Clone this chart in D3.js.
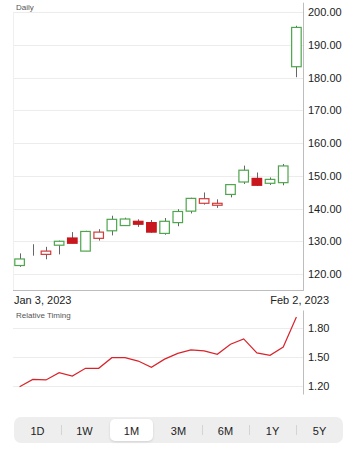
<!DOCTYPE html>
<html>
<head>
<meta charset="utf-8">
<script src="https://cdn.jsdelivr.net/npm/d3@7"></script>
<style>
  body { margin: 0; background: #fff; }
  text { font-family: "Liberation Sans", Arial, sans-serif; }
</style>
</head>
<body>
<script>
// daily prices, Jan 3 - Feb 2 2023
var dates = ["Jan 3, 2023", "Jan 4", "Jan 5", "Jan 6", "Jan 9", "Jan 10", "Jan 11", "Jan 12", "Jan 13",
  "Jan 17", "Jan 18", "Jan 19", "Jan 20", "Jan 23", "Jan 24", "Jan 25", "Jan 26", "Jan 27",
  "Jan 30", "Jan 31", "Feb 1", "Feb 2, 2023"];
var open  = [122.6, 127.3, 126.0, 128.8, 131.0, 127.0, 130.9, 133.2, 134.8, 136.1, 135.7, 132.4, 135.7, 139.2, 141.6, 141.0, 144.3, 148.1, 149.2, 147.7, 147.9, 183.3];
var high  = [126.3, 129.1, 128.3, 130.2, 132.8, 133.2, 133.7, 137.8, 137.2, 136.7, 136.5, 137.1, 139.8, 143.3, 144.9, 142.8, 147.5, 153.1, 151.0, 149.5, 153.6, 195.8];
var low   = [122.2, 125.6, 124.5, 126.0, 129.4, 127.0, 130.2, 131.8, 134.7, 134.4, 132.6, 132.0, 134.6, 138.5, 141.2, 140.2, 143.4, 147.5, 146.9, 147.2, 147.1, 180.1];
var close = [124.6, 127.3, 127.0, 130.0, 129.4, 133.0, 132.8, 136.7, 136.8, 135.2, 132.8, 136.1, 139.1, 143.1, 143.0, 141.6, 147.3, 151.7, 147.1, 148.9, 153.0, 195.3];
var timing = [1.19, 1.265, 1.26, 1.335, 1.30, 1.38, 1.38, 1.49, 1.49, 1.455, 1.39, 1.475, 1.535, 1.57, 1.56, 1.525, 1.63, 1.685, 1.54, 1.515, 1.60, 1.91];
var priceTicks = [120, 130, 140, 150, 160, 170, 180, 190, 200];
var timingTicks = [1.2, 1.5, 1.8];
var ranges = ["1D", "1W", "1M", "3M", "6M", "1Y", "5Y"];
var selectedRange = "1M";

var width = 358, height = 450;
var left = 13, right = 303;

var svg = d3.select("body").append("svg")
  .attr("width", width)
  .attr("height", height);

var x = d3.scaleBand()
  .domain(d3.range(dates.length))
  .range([left, right])
  .paddingInner(0.2)
  .paddingOuter(0.1);

var y = d3.scaleLinear().domain([115, 203]).range([290.4, 2.2]);
var y2 = d3.scaleLinear().domain([1.1, 2.0]).range([395.4, 308.4]);

// ---- price panel ----
svg.append("g")
  .selectAll("line")
  .data(priceTicks)
  .enter().append("line")
  .attr("x1", left).attr("x2", right)
  .attr("y1", d => Math.round(y(d)) + 0.5)
  .attr("y2", d => Math.round(y(d)) + 0.5)
  .attr("stroke", "#ececec");

svg.append("line")
  .attr("x1", left + 0.5).attr("x2", left + 0.5)
  .attr("y1", y(200)).attr("y2", y(115))
  .attr("stroke", "#f0f0f0");

var yAxis = svg.append("g")
  .attr("transform", "translate(" + right + ",0)")
  .call(d3.axisRight(y).tickValues(priceTicks).tickFormat(d3.format(".2f")).tickSize(0).tickPadding(5));
yAxis.select(".domain").attr("stroke", "#bdbdbd");
yAxis.selectAll("text").attr("font-size", 11).attr("fill", "#222");

svg.append("line")
  .attr("x1", left).attr("x2", right + 0.5)
  .attr("y1", 290.5).attr("y2", 290.5)
  .attr("stroke", "#bdbdbd");

svg.append("text")
  .attr("x", 16).attr("y", 10)
  .attr("font-size", 8)
  .attr("fill", "#555")
  .text("Daily");

var candles = svg.append("g")
  .selectAll("g")
  .data(dates.map((d, i) => i))
  .enter().append("g");

function candleColor(i) {
  if (open[i] === close[i]) return "#666";
  var up = i === 0 ? close[i] >= open[i] : close[i] >= close[i - 1];
  return up ? "#4da64d" : "#d33a3a";
}

candles.append("line")
  .attr("x1", i => Math.round(x(i) + x.bandwidth() / 2) + 0.5)
  .attr("x2", i => Math.round(x(i) + x.bandwidth() / 2) + 0.5)
  .attr("y1", i => y(high[i]))
  .attr("y2", i => y(low[i]))
  .attr("stroke", "#666");

candles.append("rect")
  .attr("x", i => x(i) + 0.5)
  .attr("width", x.bandwidth() - 1)
  .attr("y", i => y(Math.max(open[i], close[i])))
  .attr("height", i => Math.abs(y(open[i]) - y(close[i])))
  .attr("fill", i => close[i] < open[i] ? "#c8171d" : "#fff")
  .attr("stroke", i => close[i] < open[i] ? "#c8171d" : candleColor(i))
  .attr("stroke-width", 1.2);

svg.append("text")
  .attr("x", 14).attr("y", 304)
  .attr("font-size", 11).attr("fill", "#222")
  .text(dates[0]);

svg.append("text")
  .attr("x", 329).attr("y", 304)
  .attr("text-anchor", "end")
  .attr("font-size", 11).attr("fill", "#222")
  .text(dates[dates.length - 1]);

// ---- relative timing panel ----
svg.append("text")
  .attr("x", 16).attr("y", 318)
  .attr("font-size", 8)
  .attr("fill", "#555")
  .text("Relative Timing");

svg.append("g")
  .selectAll("line")
  .data(timingTicks)
  .enter().append("line")
  .attr("x1", left).attr("x2", right)
  .attr("y1", d => Math.round(y2(d)) + 0.5)
  .attr("y2", d => Math.round(y2(d)) + 0.5)
  .attr("stroke", "#ececec");

var y2Axis = svg.append("g")
  .attr("transform", "translate(" + right + ",0)")
  .call(d3.axisRight(y2).tickValues(timingTicks).tickFormat(d3.format(".2f")).tickSize(0).tickPadding(5));
y2Axis.select(".domain").attr("d", "M0.5,310.5V394.5").attr("stroke", "#bdbdbd");
y2Axis.selectAll("text").attr("font-size", 11).attr("fill", "#222");

var line = d3.line()
  .x((d, i) => x(i) + x.bandwidth() / 2)
  .y(d => y2(d));

svg.append("path")
  .datum(timing)
  .attr("d", line)
  .attr("fill", "none")
  .attr("stroke", "#d9232b")
  .attr("stroke-width", 1.2);

// ---- range selector ----
var seg = d3.scaleBand().domain(ranges).range([14, 343]);

svg.append("rect")
  .attr("x", 14).attr("y", 417)
  .attr("width", 329).attr("height", 26)
  .attr("rx", 7)
  .attr("fill", "#eeeeef");

var selIdx = ranges.indexOf(selectedRange);
svg.append("g")
  .selectAll("line")
  .data(ranges.slice(1))
  .enter().append("line")
  .filter((d, i) => i + 1 !== selIdx && i + 1 !== selIdx + 1)
  .attr("x1", d => Math.round(seg(d)) + 0.5)
  .attr("x2", d => Math.round(seg(d)) + 0.5)
  .attr("y1", 425).attr("y2", 435)
  .attr("stroke", "#d4d4d6");

svg.append("rect")
  .attr("x", seg(selectedRange) + 2).attr("y", 419)
  .attr("width", seg.bandwidth() - 4).attr("height", 22)
  .attr("rx", 5)
  .attr("fill", "#fff")
  .style("filter", "drop-shadow(0 1px 1px rgba(0,0,0,0.12))");

svg.append("g")
  .selectAll("text")
  .data(ranges)
  .enter().append("text")
  .attr("x", d => seg(d) + seg.bandwidth() / 2)
  .attr("y", 434.5)
  .attr("text-anchor", "middle")
  .attr("font-size", 11)
  .attr("fill", "#222")
  .text(d => d);
</script>
</body>
</html>
